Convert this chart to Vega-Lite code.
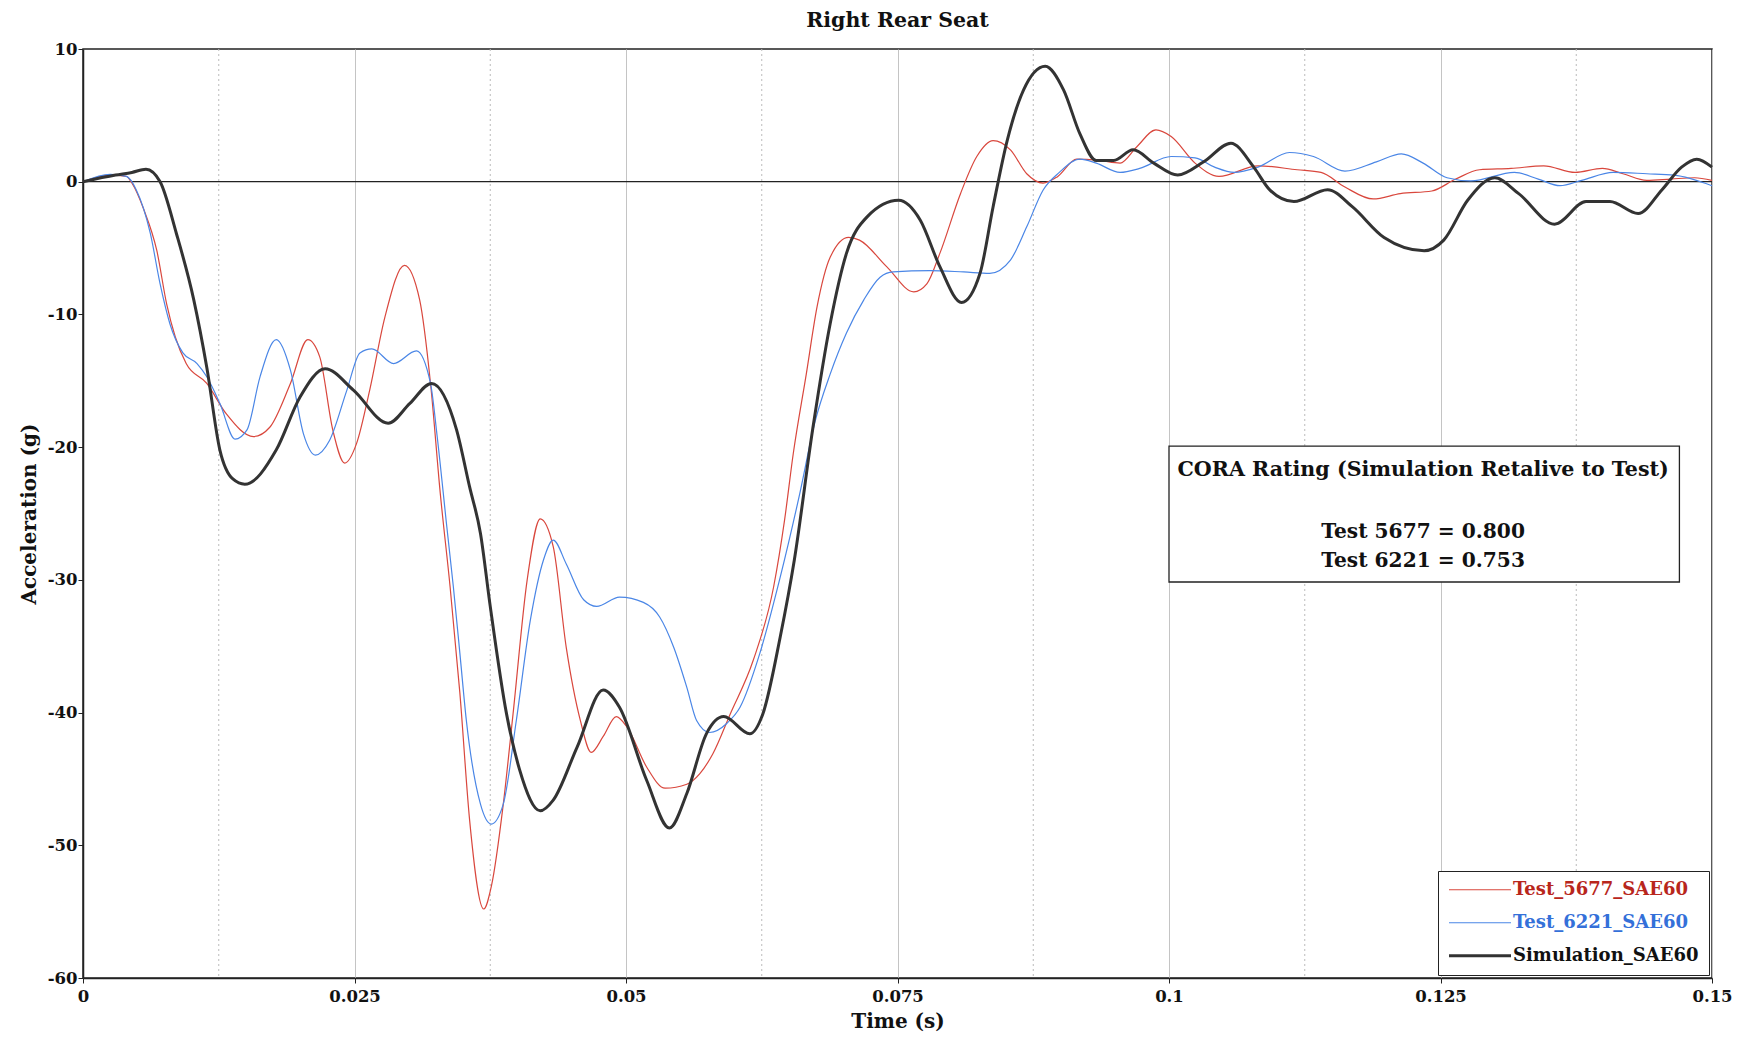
{
 "$schema": "https://vega.github.io/schema/vega-lite/v6.json",
 "width": 1629, "height": 929,
 "autosize": {"type": "none"},
 "padding": {"left": 83, "top": 49, "right": 28, "bottom": 59},
 "background": "white",
 "title": {"text": "Right Rear Seat", "font": "DejaVu Serif", "fontSize": 20.5, "fontWeight": "bold", "color": "#111", "anchor": "middle", "offset": 10},
 "config": {
  "view": {"stroke": "#222", "strokeWidth": 1.5},
  "font": "DejaVu Serif",
  "axis": {"gridColor": "#c4c4c4", "gridWidth": 1, "tickColor": "#222", "domainColor": "#222", "domainWidth": 1.5, "tickSize": 5,
   "labelFont": "DejaVu Serif", "labelFontSize": 16.5, "labelFontWeight": "bold", "labelColor": "#111", "labelFlush": false, "labelOverlap": false, "labelBound": false,
   "titleFont": "DejaVu Serif", "titleFontSize": 20, "titleFontWeight": "bold", "titleColor": "#111"},
  "axisX": {"labelPadding": 5, "titlePadding": 7},
  "axisY": {"labelPadding": 1, "titlePadding": 8}
 },
 "layer": [
  {
   "data": {"values": [{"t": 0.0125}, {"t": 0.0375}, {"t": 0.0625}, {"t": 0.0875}, {"t": 0.1125}, {"t": 0.1375}]},
   "mark": {"type": "rule", "color": "#bbbbbb", "strokeWidth": 1, "strokeDash": [2, 3]},
   "encoding": {"x": {"field": "t", "type": "quantitative", "scale": {"domain": [0, 0.15], "nice": false, "zero": false}, "axis": {"values": [0, 0.025, 0.05, 0.075, 0.1, 0.125, 0.15], "labelExpr": "'' + datum.value", "title": "Time (s)"}}}
  },
  {
   "data": {"values": [{}]},
   "mark": {"type": "rule", "color": "#222", "strokeWidth": 1.3},
   "encoding": {"y": {"datum": 0, "type": "quantitative", "scale": {"domain": [-60, 10], "nice": false, "zero": false}, "axis": {"values": [-60, -50, -40, -30, -20, -10, 0, 10], "labelExpr": "'' + datum.value", "title": "Acceleration (g)"}}}
  },
  {
   "data": {"values": [
    {"t":0,"v":0},{"t":0.0025,"v":0.5},{"t":0.004,"v":0.4},{"t":0.0045,"v":-0.1},{"t":0.0056,"v":-2.1},{"t":0.0068,"v":-5.2},{"t":0.0077,"v":-9.2},{"t":0.0085,"v":-11.7},{"t":0.0095,"v":-13.7},{"t":0.0114,"v":-15.2},{"t":0.0132,"v":-17.5},{"t":0.0157,"v":-19.2},{"t":0.0172,"v":-18.5},{"t":0.0191,"v":-15.2},{"t":0.0207,"v":-11.9},{"t":0.0218,"v":-13.2},{"t":0.023,"v":-18.7},{"t":0.0241,"v":-21.2},{"t":0.0252,"v":-19.7},{"t":0.0264,"v":-15.7},{"t":0.0278,"v":-10.2},{"t":0.0296,"v":-6.3},{"t":0.031,"v":-8.9},{"t":0.032,"v":-15.2},{"t":0.0329,"v":-23.5},{"t":0.0338,"v":-30.5},{"t":0.0347,"v":-38.5},{"t":0.0356,"v":-48.1},{"t":0.0369,"v":-54.8},{"t":0.0376,"v":-53.1},{"t":0.0387,"v":-46.9},{"t":0.0396,"v":-40.1},{"t":0.0409,"v":-30},{"t":0.0421,"v":-25.4},{"t":0.0433,"v":-27.5},{"t":0.0445,"v":-35.1},{"t":0.0458,"v":-40.6},{"t":0.0468,"v":-43},{"t":0.0479,"v":-41.8},{"t":0.0491,"v":-40.3},{"t":0.0501,"v":-41.1},{"t":0.0519,"v":-44.1},{"t":0.0536,"v":-45.7},{"t":0.0556,"v":-45.4},{"t":0.0568,"v":-44.6},{"t":0.058,"v":-43.1},{"t":0.0596,"v":-40.1},{"t":0.0617,"v":-36.1},{"t":0.0636,"v":-30.5},{"t":0.0646,"v":-25.5},{"t":0.0654,"v":-20.5},{"t":0.0666,"v":-14.5},{"t":0.0676,"v":-9.4},{"t":0.0688,"v":-5.7},{"t":0.0705,"v":-4.2},{"t":0.0715,"v":-4.4},{"t":0.074,"v":-6.4},{"t":0.0765,"v":-8.3},{"t":0.0777,"v":-7.7},{"t":0.0789,"v":-5.4},{"t":0.0808,"v":-0.9},{"t":0.0823,"v":1.9},{"t":0.0838,"v":3.1},{"t":0.0854,"v":2.4},{"t":0.0869,"v":0.6},{"t":0.0884,"v":-0.1},{"t":0.0897,"v":0.36},{"t":0.0915,"v":1.7},{"t":0.0936,"v":1.6},{"t":0.0955,"v":1.4},{"t":0.097,"v":2.6},{"t":0.0988,"v":3.9},{"t":0.1002,"v":3.4},{"t":0.1024,"v":1.4},{"t":0.1046,"v":0.4},{"t":0.1082,"v":1.2},{"t":0.1118,"v":0.9},{"t":0.114,"v":0.7},{"t":0.1162,"v":-0.4},{"t":0.1188,"v":-1.3},{"t":0.1213,"v":-0.9},{"t":0.1242,"v":-0.7},{"t":0.1264,"v":0.2},{"t":0.1286,"v":0.9},{"t":0.1315,"v":1.0},{"t":0.1345,"v":1.2},{"t":0.1374,"v":0.7},{"t":0.1399,"v":1.0},{"t":0.1418,"v":0.6},{"t":0.144,"v":0.1},{"t":0.1462,"v":0.2},{"t":0.1484,"v":0.3},{"t":0.15,"v":0.1}
   ]},
   "mark": {"type": "line", "strokeWidth": 1.2, "interpolate": "monotone"},
   "encoding": {
    "x": {"field": "t", "type": "quantitative", "axis": {"values": [0, 0.025, 0.05, 0.075, 0.1, 0.125, 0.15], "labelExpr": "'' + datum.value", "title": "Time (s)"}},
    "y": {"field": "v", "type": "quantitative", "axis": {"values": [-60, -50, -40, -30, -20, -10, 0, 10], "labelExpr": "'' + datum.value", "title": "Acceleration (g)"}},
    "color": {"datum": "Test_5677_SAE60", "type": "nominal",
     "scale": {"domain": ["Test_5677_SAE60", "Test_6221_SAE60", "Simulation_SAE60"], "range": ["#d9473d", "#4a86e6", "#333333"]},
     "legend": {"orient": "bottom-right", "offset": 3, "title": null, "symbolType": "stroke", "symbolSize": 3844, "symbolStrokeWidth": 1.2,
      "labelFont": "DejaVu Serif", "labelFontSize": 18, "labelFontWeight": "bold", "labelLimit": 400, "labelOffset": 1,
      "strokeColor": "#222", "fillColor": "white", "padding": 10, "rowPadding": 14, "clipHeight": 17.5,
      "encode": {
       "labels": {"update": {"fill": {"signal": "(datum.value == 'Test_5677_SAE60' ? '#b8261c' : datum.value == 'Test_6221_SAE60' ? '#3470d9' : '#111111')"}}},
       "symbols": {"update": {"strokeWidth": {"signal": "(datum.value == 'Simulation_SAE60' ? 3 : 1.2)"}}}
      }}
    }
   }
  },
  {
   "data": {"values": [
    {"t":0,"v":0},{"t":0.0025,"v":0.56},{"t":0.004,"v":0.4},{"t":0.0049,"v":-0.6},{"t":0.0062,"v":-3.9},{"t":0.0071,"v":-7.7},{"t":0.008,"v":-10.7},{"t":0.0092,"v":-12.9},{"t":0.0105,"v":-13.7},{"t":0.0114,"v":-14.7},{"t":0.0126,"v":-16.7},{"t":0.014,"v":-19.4},{"t":0.0151,"v":-18.7},{"t":0.0163,"v":-14.7},{"t":0.0178,"v":-11.9},{"t":0.0191,"v":-14.2},{"t":0.0203,"v":-19.0},{"t":0.0214,"v":-20.6},{"t":0.0227,"v":-19.5},{"t":0.0243,"v":-15.7},{"t":0.0255,"v":-12.9},{"t":0.0266,"v":-12.6},{"t":0.0286,"v":-13.7},{"t":0.0307,"v":-12.75},{"t":0.032,"v":-15.2},{"t":0.0326,"v":-19.1},{"t":0.0335,"v":-26},{"t":0.0341,"v":-30.5},{"t":0.0347,"v":-35.5},{"t":0.0353,"v":-40.6},{"t":0.0366,"v":-46.9},{"t":0.0376,"v":-48.4},{"t":0.0387,"v":-46.9},{"t":0.0399,"v":-40.6},{"t":0.0412,"v":-33},{"t":0.0424,"v":-28.5},{"t":0.0433,"v":-27},{"t":0.0445,"v":-28.8},{"t":0.0461,"v":-31.5},{"t":0.0473,"v":-32},{"t":0.0494,"v":-31.3},{"t":0.0516,"v":-31.7},{"t":0.0531,"v":-32.8},{"t":0.0544,"v":-35.1},{"t":0.0556,"v":-38.1},{"t":0.0565,"v":-40.6},{"t":0.0577,"v":-41.5},{"t":0.0593,"v":-40.8},{"t":0.0605,"v":-39.6},{"t":0.0623,"v":-35.6},{"t":0.0642,"v":-29.8},{"t":0.066,"v":-23.5},{"t":0.0674,"v":-18.1},{"t":0.0688,"v":-14.5},{"t":0.0703,"v":-11.4},{"t":0.0719,"v":-8.9},{"t":0.0734,"v":-7.2},{"t":0.0746,"v":-6.8},{"t":0.078,"v":-6.7},{"t":0.0811,"v":-6.8},{"t":0.0835,"v":-6.9},{"t":0.0854,"v":-5.9},{"t":0.0869,"v":-3.4},{"t":0.0884,"v":-0.64},{"t":0.0899,"v":0.7},{"t":0.0918,"v":1.7},{"t":0.0933,"v":1.4},{"t":0.0955,"v":0.7},{"t":0.0973,"v":1.0},{"t":0.1002,"v":1.9},{"t":0.1024,"v":1.8},{"t":0.1042,"v":1.1},{"t":0.106,"v":0.7},{"t":0.1082,"v":1.1},{"t":0.1111,"v":2.2},{"t":0.1133,"v":1.9},{"t":0.1162,"v":0.8},{"t":0.1191,"v":1.5},{"t":0.1214,"v":2.1},{"t":0.1234,"v":1.4},{"t":0.1256,"v":0.3},{"t":0.1278,"v":0.06},{"t":0.1318,"v":0.7},{"t":0.134,"v":0.2},{"t":0.136,"v":-0.3},{"t":0.138,"v":0.1},{"t":0.1409,"v":0.7},{"t":0.144,"v":0.6},{"t":0.1465,"v":0.5},{"t":0.15,"v":-0.3}
   ]},
   "mark": {"type": "line", "strokeWidth": 1.2, "interpolate": "monotone"},
   "encoding": {
    "x": {"field": "t", "type": "quantitative", "axis": {"values": [0, 0.025, 0.05, 0.075, 0.1, 0.125, 0.15], "labelExpr": "'' + datum.value", "title": "Time (s)"}},
    "y": {"field": "v", "type": "quantitative", "axis": {"values": [-60, -50, -40, -30, -20, -10, 0, 10], "labelExpr": "'' + datum.value", "title": "Acceleration (g)"}},
    "color": {"datum": "Test_6221_SAE60", "type": "nominal"}
   }
  },
  {
   "data": {"values": [
    {"t":0,"v":0},{"t":0.003,"v":0.5},{"t":0.0045,"v":0.7},{"t":0.0058,"v":0.94},{"t":0.0071,"v":0},{"t":0.0086,"v":-3.9},{"t":0.0102,"v":-8.9},{"t":0.0114,"v":-14},{"t":0.0126,"v":-20.2},{"t":0.0138,"v":-22.4},{"t":0.0149,"v":-22.8},{"t":0.0178,"v":-20.2},{"t":0.02,"v":-16.2},{"t":0.0223,"v":-14.1},{"t":0.0249,"v":-15.7},{"t":0.0281,"v":-18.2},{"t":0.0301,"v":-16.7},{"t":0.0321,"v":-15.2},{"t":0.0344,"v":-18.7},{"t":0.0356,"v":-23},{"t":0.0366,"v":-26.5},{"t":0.0375,"v":-32},{"t":0.039,"v":-40.1},{"t":0.0402,"v":-44.3},{"t":0.0421,"v":-47.4},{"t":0.0433,"v":-46.6},{"t":0.0455,"v":-42.6},{"t":0.0479,"v":-38.3},{"t":0.0494,"v":-39.6},{"t":0.0519,"v":-45.1},{"t":0.054,"v":-48.7},{"t":0.0556,"v":-46.1},{"t":0.0574,"v":-41.6},{"t":0.059,"v":-40.3},{"t":0.0614,"v":-41.6},{"t":0.0626,"v":-40.1},{"t":0.0642,"v":-34.3},{"t":0.0655,"v":-28.5},{"t":0.0672,"v":-18.6},{"t":0.0688,"v":-10.7},{"t":0.0703,"v":-5.4},{"t":0.0722,"v":-2.65},{"t":0.0751,"v":-1.4},{"t":0.0771,"v":-2.9},{"t":0.0789,"v":-6.4},{"t":0.0809,"v":-9.1},{"t":0.0826,"v":-6.9},{"t":0.0838,"v":-1.9},{"t":0.0851,"v":3.1},{"t":0.0866,"v":6.9},{"t":0.0886,"v":8.7},{"t":0.0903,"v":6.9},{"t":0.0918,"v":3.6},{"t":0.0933,"v":1.6},{"t":0.0949,"v":1.6},{"t":0.0967,"v":2.4},{"t":0.0986,"v":1.4},{"t":0.1008,"v":0.5},{"t":0.1032,"v":1.5},{"t":0.1057,"v":2.9},{"t":0.1078,"v":1.1},{"t":0.1093,"v":-0.64},{"t":0.1115,"v":-1.5},{"t":0.1146,"v":-0.6},{"t":0.1169,"v":-1.9},{"t":0.1198,"v":-4.2},{"t":0.1235,"v":-5.2},{"t":0.1253,"v":-4.4},{"t":0.1275,"v":-1.4},{"t":0.13,"v":0.3},{"t":0.1322,"v":-0.9},{"t":0.1355,"v":-3.2},{"t":0.1384,"v":-1.5},{"t":0.1406,"v":-1.5},{"t":0.1432,"v":-2.4},{"t":0.1454,"v":-0.6},{"t":0.1472,"v":1.1},{"t":0.1486,"v":1.7},{"t":0.15,"v":1.1}
   ]},
   "mark": {"type": "line", "strokeWidth": 3, "interpolate": "monotone"},
   "encoding": {
    "x": {"field": "t", "type": "quantitative", "axis": {"values": [0, 0.025, 0.05, 0.075, 0.1, 0.125, 0.15], "labelExpr": "'' + datum.value", "title": "Time (s)"}},
    "y": {"field": "v", "type": "quantitative", "axis": {"values": [-60, -50, -40, -30, -20, -10, 0, 10], "labelExpr": "'' + datum.value", "title": "Acceleration (g)"}},
    "color": {"datum": "Simulation_SAE60", "type": "nominal"}
   }
  },
  {
   "data": {"values": [{}]},
   "mark": {"type": "rect", "fill": "white", "stroke": "#222", "strokeWidth": 1.3},
   "encoding": {
    "x": {"datum": 0.1, "type": "quantitative", "axis": {"values": [0, 0.025, 0.05, 0.075, 0.1, 0.125, 0.15], "labelExpr": "'' + datum.value", "title": "Time (s)"}}, "x2": {"datum": 0.147},
    "y": {"datum": -19.93, "type": "quantitative", "axis": {"values": [-60, -50, -40, -30, -20, -10, 0, 10], "labelExpr": "'' + datum.value", "title": "Acceleration (g)"}}, "y2": {"datum": -30.16}
   }
  },
  {
   "data": {"values": [{"label": "CORA Rating (Simulation Retalive to Test)"}]},
   "mark": {"type": "text", "font": "DejaVu Serif", "fontWeight": "bold", "fontSize": 20.6, "color": "#111", "align": "center", "baseline": "alphabetic"},
   "encoding": {"text": {"field": "label"},
    "x": {"datum": 0.1234, "type": "quantitative", "axis": {"values": [0, 0.025, 0.05, 0.075, 0.1, 0.125, 0.15], "labelExpr": "'' + datum.value", "title": "Time (s)"}},
    "y": {"datum": -22.17, "type": "quantitative", "axis": {"values": [-60, -50, -40, -30, -20, -10, 0, 10], "labelExpr": "'' + datum.value", "title": "Acceleration (g)"}}}
  },
  {
   "data": {"values": [{"label": "Test 5677 = 0.800"}]},
   "mark": {"type": "text", "font": "DejaVu Serif", "fontWeight": "bold", "fontSize": 20.2, "color": "#111", "align": "center", "baseline": "alphabetic"},
   "encoding": {"text": {"field": "label"},
    "x": {"datum": 0.1234, "type": "quantitative", "axis": {"values": [0, 0.025, 0.05, 0.075, 0.1, 0.125, 0.15], "labelExpr": "'' + datum.value", "title": "Time (s)"}},
    "y": {"datum": -26.85, "type": "quantitative", "axis": {"values": [-60, -50, -40, -30, -20, -10, 0, 10], "labelExpr": "'' + datum.value", "title": "Acceleration (g)"}}}
  },
  {
   "data": {"values": [{"label": "Test 6221 = 0.753"}]},
   "mark": {"type": "text", "font": "DejaVu Serif", "fontWeight": "bold", "fontSize": 20.2, "color": "#111", "align": "center", "baseline": "alphabetic"},
   "encoding": {"text": {"field": "label"},
    "x": {"datum": 0.1234, "type": "quantitative", "axis": {"values": [0, 0.025, 0.05, 0.075, 0.1, 0.125, 0.15], "labelExpr": "'' + datum.value", "title": "Time (s)"}},
    "y": {"datum": -29.0, "type": "quantitative", "axis": {"values": [-60, -50, -40, -30, -20, -10, 0, 10], "labelExpr": "'' + datum.value", "title": "Acceleration (g)"}}}
  }
 ]
}
